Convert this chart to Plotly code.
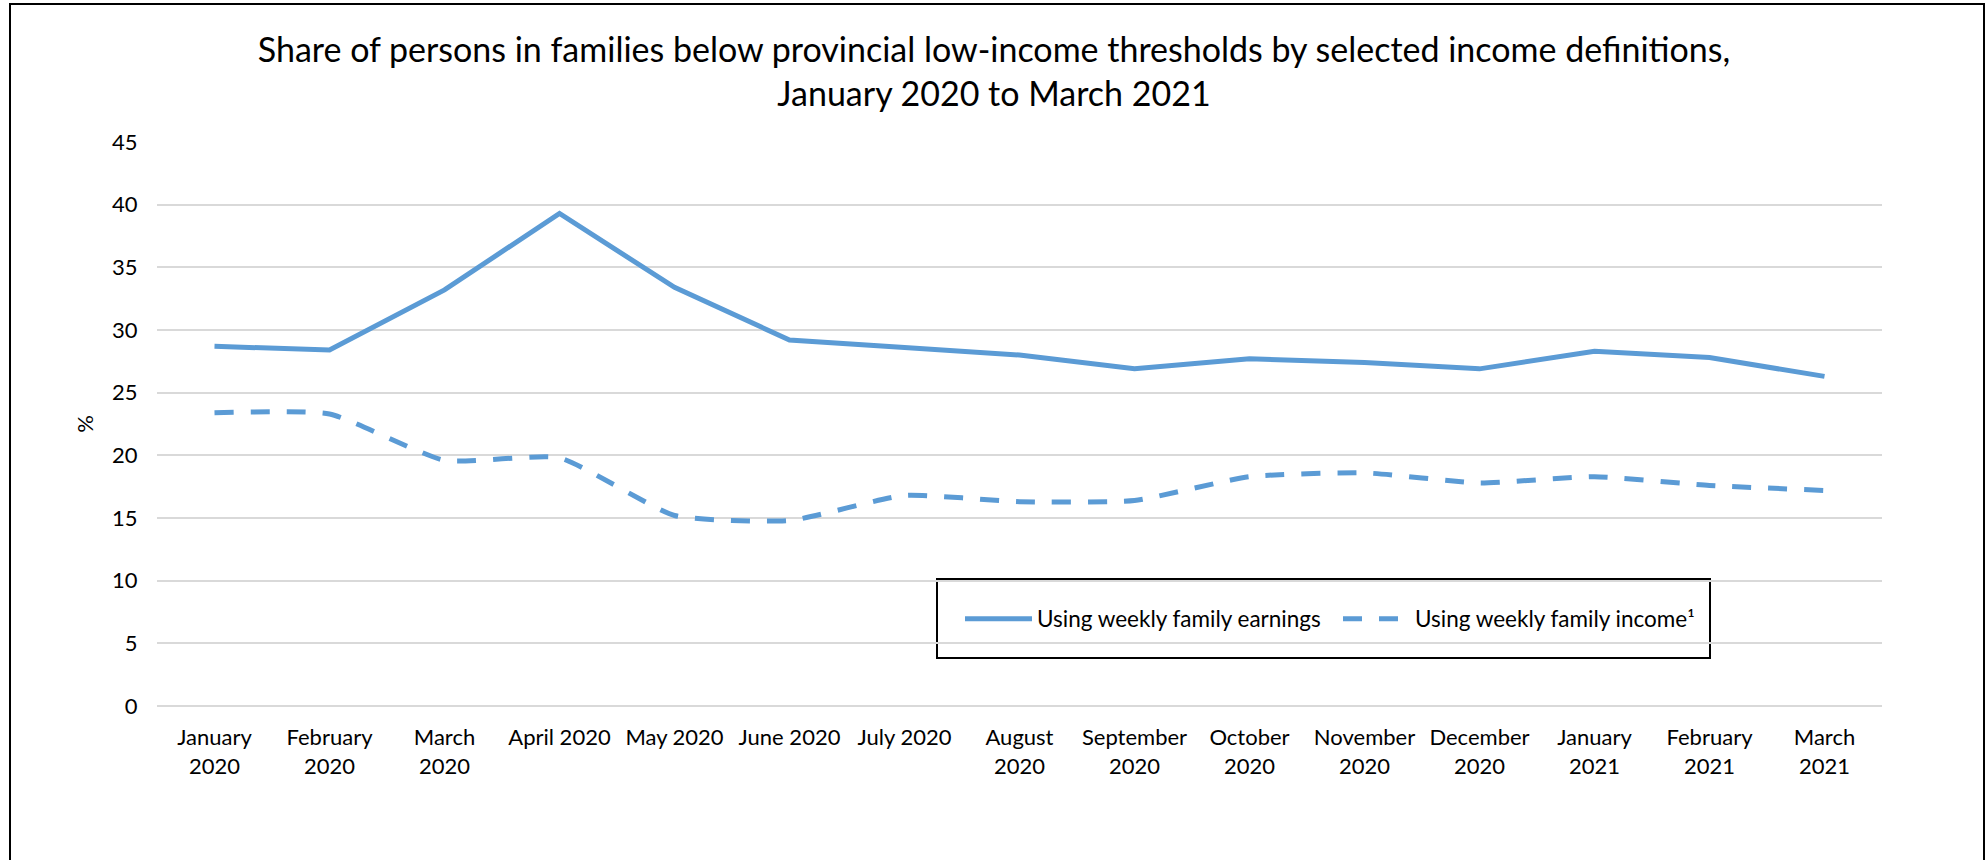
import plotly.graph_objects as go

# Months covered by the series
categories = [
    "January 2020", "February 2020", "March 2020", "April 2020", "May 2020",
    "June 2020", "July 2020", "August 2020", "September 2020", "October 2020",
    "November 2020", "December 2020", "January 2021", "February 2021", "March 2021",
]
# Tick labels as displayed (wrapped where the month name is long)
tick_labels = [
    "January<br>2020", "February<br>2020", "March<br>2020", "April 2020", "May 2020",
    "June 2020", "July 2020", "August<br>2020", "September<br>2020", "October<br>2020",
    "November<br>2020", "December<br>2020", "January<br>2021", "February<br>2021", "March<br>2021",
]
# Share of persons below provincial low-income thresholds (%)
weekly_family_earnings = [28.7, 28.4, 33.2, 39.3, 33.4, 29.2, 28.6, 28.0, 26.9, 27.7, 27.4, 26.9, 28.3, 27.8, 26.3]
weekly_family_income = [23.4, 23.3, 19.6, 19.8, 15.2, 14.8, 16.8, 16.3, 16.4, 18.3, 18.6, 17.8, 18.3, 17.6, 17.2]

series_names = ["Using weekly family earnings", "Using weekly family income¹"]
y_ticks = list(range(0, 50, 5))

W, H = 1988, 860
L, R, T, B = 157, 106, 142, 154
plot_w, plot_h = W - L - R, H - T - B

def px_x(x):
    return (x - L) / plot_w

def px_y(y):
    return (H - B - y) / plot_h

BLUE = "#5B9BD5"
FONT = "Lato"

fig = go.Figure()
fig.add_trace(go.Scatter(
    x=categories, y=weekly_family_earnings, name=series_names[0],
    mode="lines", line=dict(color=BLUE, width=5),
    hoverinfo="x+y",
))
fig.add_trace(go.Scatter(
    x=categories, y=weekly_family_income, name=series_names[1],
    mode="lines", line=dict(color=BLUE, width=5, dash="19px,17px", shape="spline", smoothing=0.5),
    hoverinfo="x+y",
))

fig.update_layout(
    width=W, height=H,
    margin=dict(l=L, r=R, t=T, b=B),
    paper_bgcolor="white", plot_bgcolor="white",
    font=dict(family=FONT, size=22, color="#000000"),
    title=dict(
        text="Share of persons in families below provincial low-income thresholds by selected income definitions,<br>January 2020 to March 2021",
        font=dict(family=FONT, size=34, color="#000000"),
        x=0.5, xanchor="center", xref="container",
        y=1 - 62 / H, yanchor="middle", yref="container",
    ),
    xaxis=dict(
        type="category", categoryorder="array", categoryarray=categories,
        range=[-0.5, len(categories) - 0.5],
        tickmode="array", tickvals=categories, ticktext=tick_labels,
        showgrid=False, showline=False, zeroline=False,
        ticks="outside", ticklen=12, tickcolor="rgba(0,0,0,0)",
        tickfont=dict(size=22),
        fixedrange=True,
    ),
    yaxis=dict(
        range=[0, 45], tickmode="array", tickvals=y_ticks,
        showgrid=True, gridcolor="#D9D9D9", gridwidth=2,
        zeroline=True, zerolinecolor="#D9D9D9", zerolinewidth=2,
        showline=False,
        ticks="outside", ticklen=14, tickcolor="rgba(0,0,0,0)",
        tickfont=dict(size=22),
        title=dict(text="%", font=dict(size=22), standoff=12),
        fixedrange=True,
    ),
    showlegend=True,
    legend=dict(
        orientation="h", x=px_x(960), xanchor="left",
        y=px_y(619), yanchor="middle",
        bgcolor="rgba(0,0,0,0)", borderwidth=0,
        itemwidth=67, entrywidth=296,
        font=dict(size=22.5),
    ),
    shapes=[
        # legend frame
        dict(type="rect", xref="paper", yref="paper",
             x0=px_x(937), x1=px_x(1710), y0=px_y(658), y1=px_y(579),
             line=dict(color="black", width=2), fillcolor="rgba(0,0,0,0)", layer="below"),
        # outer chart frame
        dict(type="rect", xref="paper", yref="paper",
             x0=px_x(10), x1=px_x(1984), y0=px_y(900), y1=px_y(4),
             line=dict(color="black", width=2), fillcolor="rgba(0,0,0,0)"),
    ],
)

fig.write_html("out.html")
